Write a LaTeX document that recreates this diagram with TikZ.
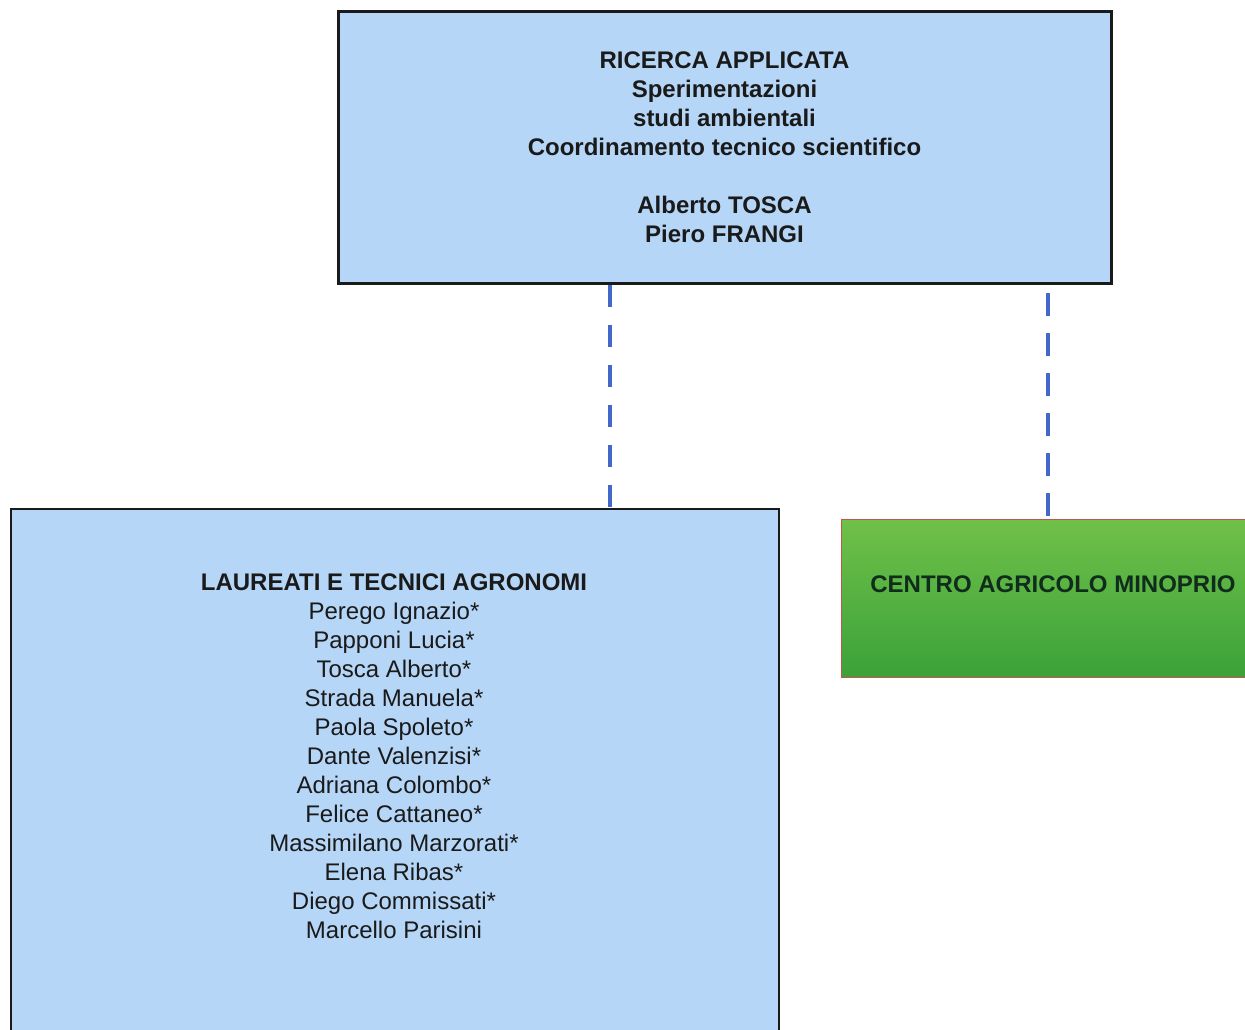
\documentclass[tikz,border=0pt]{standalone}
\usepackage{fontspec}
\setmainfont{Liberation Sans}
\usetikzlibrary{positioning}
\definecolor{boxblue}{RGB}{182,214,247}
\definecolor{linkblue}{RGB}{66,104,200}
\definecolor{greentop}{RGB}{112,192,72}
\definecolor{greenbot}{RGB}{58,162,58}
\definecolor{greenedge}{RGB}{196,84,84}
\definecolor{inkdark}{RGB}{26,26,26}
\definecolor{inkgreen}{RGB}{16,44,28}
\tikzset{
  bluebox/.style={draw=inkdark, fill=boxblue, rectangle, inner sep=0pt},
  txt/.style={align=center, text=inkdark, font=\fontsize{24}{29}\selectfont, inner sep=0pt},
  link/.style={draw=linkblue, line width=4pt, dash pattern=on 22.5pt off 17.5pt}
}
\begin{document}
\begin{tikzpicture}[x=1pt,y=-1pt]
\clip (0,0) rectangle (1245,1029);
\fill[white] (0,0) rectangle (1245,1029);
% top box
\node[bluebox, line width=3pt, minimum width=773pt, minimum height=272pt] (top) at (724.5,147) {};
\node[txt, font=\fontsize{24}{29}\selectfont\bfseries] (toptext) at (724.5,147)
  {RICERCA APPLICATA\\Sperimentazioni\\studi ambientali\\Coordinamento tecnico scientifico\\[29pt]Alberto TOSCA\\Piero FRANGI};
% bottom box
\node[bluebox, line width=1.5pt, minimum width=768pt, minimum height=600pt, anchor=north west] (staff) at (10,508) {};
\node[txt, anchor=north] (stafftext) at (394,574)
  {\textbf{LAUREATI E TECNICI AGRONOMI}\\Perego Ignazio*\\Papponi Lucia*\\Tosca Alberto*\\Strada Manuela*\\Paola Spoleto*\\Dante Valenzisi*\\Adriana Colombo*\\Felice Cattaneo*\\Massimilano Marzorati*\\Elena Ribas*\\Diego Commissati*\\Marcello Parisini};
% green box
\node[rectangle, draw=greenedge, line width=1.2pt, top color=greentop, bottom color=greenbot,
      minimum width=424pt, minimum height=158pt, anchor=north west, inner sep=0pt] (centro) at (841,519) {};
\node[txt, text=inkgreen, font=\fontsize{24}{29}\selectfont\bfseries] (centrotext) at (1053,584) {CENTRO AGRICOLO MINOPRIO};
% connectors
\coordinate (rstart) at (1048,293);
\draw[link] (top.south -| 610,0) -- (staff.north -| 610,0);
\draw[link] (rstart) -- (centro.north -| 1048,0);
\end{tikzpicture}
\end{document}
